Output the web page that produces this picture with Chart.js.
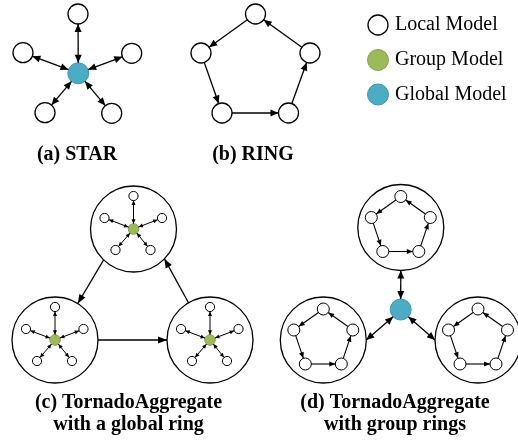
<!DOCTYPE html>
<html>
<head>
<meta charset="utf-8">
<script src="https://cdn.jsdelivr.net/npm/chart.js@4.4.0/dist/chart.umd.min.js"></script>
<style>
  html, body { margin: 0; padding: 0; background: #fff; }
  #wrap { width: 518px; height: 448px; }
</style>
</head>
<body>
<div id="wrap"><canvas id="fig" width="518" height="448"></canvas></div>
<script>
// figure units = pixels of the 518x448 picture, y grows downward

// (a) star
const starHub = [78.3, 73.3];
const starLeaves = [[78, 14], [23, 52.7], [131.7, 53.3], [45, 112.7], [111.7, 113.3]];

// (b) ring: top, left, right, bottom-left, bottom-right
const ringNodes = [[255.5, 14], [201, 53], [310, 53], [222, 113], [288.5, 113]];
const ringOrder = [0, 1, 3, 4, 2, 0];

// (c) groups with a star inside, joined by a global ring
const groupCircles = [[133.5, 229], [55, 340], [210, 340]];
const starOffsets = [[0, -33], [-29, -11], [28.5, -11], [-18, 21], [17, 21]];
// [from circle, angle on it, to circle, angle on it]
const globalRing = [[0, 134, 1, -58], [1, 0, 2, 180], [2, -120, 0, 44]];

// (d) groups with a ring inside, linked to a global hub
const ringCircles = [[400.8, 227.5], [323.3, 340], [478, 340]];
const pentOffsets = [[0, -31], [-29.5, -10], [29.5, -10], [-18, 24], [18, 24]];
const hubD = [400.7, 309.5];
// [circle, angle on circle, angle on hub]
const hubLinks = [[0, 90, -90], [1, 0, 136], [2, 180, 43]];

// legend
const legendLabels = ['Local Model', 'Group Model', 'Global Model'];
const legendPts = [[378, 25], [378, 60], [378, 94.5]];

// captions
const captionLines = [['(a) STAR'], ['(b) RING'],
  ['(c) TornadoAggregate', 'with a global ring'],
  ['(d) TornadoAggregate', 'with group rings']];
const captionPts = [[77, 155], [253, 155], [128.5, 403], [395, 403]];

const BLUE = '#4bacc6', GREEN = '#9bbb59';
const R_BIG = 43, R_NODE = 10, R_HUB = 10.5, R_C_LEAF = 4.6, R_C_GRP = 5.3, R_D_LEAF = 6;

const add = (c, o) => [c[0] + o[0], c[1] + o[1]];
const cLeaves = groupCircles.flatMap(c => starOffsets.map(o => add(c, o)));
const dLeaves = ringCircles.flatMap(c => pentOffsets.map(o => add(c, o)));
const toXY = a => a.map(p => ({ x: p[0], y: p[1] }));

function pt(chart, p) {
  return [chart.scales.x.getPixelForValue(p[0]), chart.scales.y.getPixelForValue(p[1])];
}
function onCircle(c, r, deg) {
  const a = deg * Math.PI / 180;
  return [c[0] + r * Math.cos(a), c[1] + r * Math.sin(a)];
}
function trim(a, b, ra, rb) {
  const dx = b[0] - a[0], dy = b[1] - a[1], d = Math.hypot(dx, dy);
  const ux = dx / d, uy = dy / d;
  return [[a[0] + ux * ra, a[1] + uy * ra], [b[0] - ux * rb, b[1] - uy * rb]];
}
function head(ctx, tip, from, len, wid) {
  const dx = tip[0] - from[0], dy = tip[1] - from[1], d = Math.hypot(dx, dy);
  const ux = dx / d, uy = dy / d;
  const bx = tip[0] - ux * len, by = tip[1] - uy * len;
  ctx.beginPath();
  ctx.moveTo(tip[0], tip[1]);
  ctx.lineTo(bx - uy * wid / 2, by + ux * wid / 2);
  ctx.lineTo(bx + uy * wid / 2, by - ux * wid / 2);
  ctx.closePath();
  ctx.fill();
}
function arrow(ctx, s, e, both, len, wid, lw) {
  ctx.lineWidth = lw;
  ctx.beginPath();
  ctx.moveTo(s[0], s[1]);
  ctx.lineTo(e[0], e[1]);
  ctx.stroke();
  head(ctx, e, s, len, wid);
  if (both) head(ctx, s, e, len, wid);
}

const arrowsPlugin = {
  id: 'arrows',
  afterDatasetsDraw(chart) {
    const ctx = chart.ctx;
    ctx.save();
    ctx.strokeStyle = '#000';
    ctx.fillStyle = '#000';
    // (a)
    starLeaves.forEach(l => {
      const [s, e] = trim(pt(chart, starHub), pt(chart, l), R_HUB, R_NODE);
      arrow(ctx, s, e, true, 8, 7, 1.3);
    });
    // (b)
    for (let i = 0; i < ringOrder.length - 1; i++) {
      const [s, e] = trim(pt(chart, ringNodes[ringOrder[i]]), pt(chart, ringNodes[ringOrder[i + 1]]), R_NODE, R_NODE);
      arrow(ctx, s, e, false, 8, 7, 1.3);
    }
    // (c) inner stars
    groupCircles.forEach(c => {
      starOffsets.forEach(o => {
        const [s, e] = trim(pt(chart, c), pt(chart, add(c, o)), R_C_GRP, R_C_LEAF);
        arrow(ctx, s, e, true, 4.5, 4, 1);
      });
    });
    // (c) global ring
    globalRing.forEach(([a, da, b, db]) => {
      const s = pt(chart, onCircle(groupCircles[a], R_BIG, da));
      const e = pt(chart, onCircle(groupCircles[b], R_BIG, db));
      arrow(ctx, s, e, false, 9, 7, 1.3);
    });
    // (d) inner rings
    ringCircles.forEach(c => {
      for (let i = 0; i < ringOrder.length - 1; i++) {
        const a = add(c, pentOffsets[ringOrder[i]]), b = add(c, pentOffsets[ringOrder[i + 1]]);
        const [s, e] = trim(pt(chart, a), pt(chart, b), R_D_LEAF, R_D_LEAF);
        arrow(ctx, s, e, false, 6, 5, 1.1);
      }
    });
    // (d) hub links
    hubLinks.forEach(([k, dc, dh]) => {
      const s = pt(chart, onCircle(hubD, R_HUB, dh));
      const e = pt(chart, onCircle(ringCircles[k], R_BIG, dc));
      arrow(ctx, s, e, true, 8, 7, 1.3);
    });
    ctx.restore();
  }
};

const textPlugin = {
  id: 'texts',
  afterDraw(chart) {
    const ctx = chart.ctx;
    ctx.save();
    ctx.fillStyle = '#000';
    ctx.textBaseline = 'middle';
    ctx.font = '20px "Liberation Serif", "Times New Roman", serif';
    ctx.textAlign = 'left';
    legendLabels.forEach((t, i) => {
      const p = pt(chart, [legendPts[i][0] + 17, legendPts[i][1]]);
      ctx.fillText(t, p[0], p[1]);
    });
    ctx.font = 'bold 20px "Liberation Serif", "Times New Roman", serif';
    ctx.textAlign = 'center';
    captionLines.forEach((lines, i) => {
      lines.forEach((t, j) => {
        const p = pt(chart, [captionPts[i][0], captionPts[i][1] + j * 22]);
        ctx.fillText(t, p[0], p[1]);
      });
    });
    ctx.restore();
  }
};

const whiteNode = { backgroundColor: '#fff', borderColor: '#000', showLine: false, clip: false };

new Chart(document.getElementById('fig'), {
  type: 'scatter',
  data: {
    datasets: [
      { label: 'Global Model', data: toXY([starHub, hubD, legendPts[2]]), pointRadius: R_HUB,
        backgroundColor: BLUE, borderColor: '#3d94ab', borderWidth: 1, clip: false },
      { label: 'Group Model', data: toXY([legendPts[1]]), pointRadius: R_HUB,
        backgroundColor: GREEN, borderColor: '#86a44a', borderWidth: 1, clip: false },
      { label: 'Group Model (c)', data: toXY(groupCircles), pointRadius: R_C_GRP,
        backgroundColor: GREEN, borderColor: '#86a44a', borderWidth: 1, clip: false },
      { label: 'Local Model', data: toXY([...starLeaves, ...ringNodes, legendPts[0]]), pointRadius: R_NODE,
        borderWidth: 1.3, ...whiteNode },
      { label: 'Local (c)', data: toXY(cLeaves), pointRadius: R_C_LEAF, borderWidth: 1, ...whiteNode },
      { label: 'Local (d)', data: toXY(dLeaves), pointRadius: R_D_LEAF, borderWidth: 1, ...whiteNode },
      { label: 'Groups', data: toXY([...groupCircles, ...ringCircles]), pointRadius: R_BIG,
        backgroundColor: 'rgba(0,0,0,0)', borderColor: '#000', borderWidth: 1.3, clip: false }
    ]
  },
  options: {
    responsive: false,
    animation: false,
    events: [],
    layout: { padding: 0, autoPadding: false },
    plugins: { legend: { display: false }, tooltip: { enabled: false } },
    scales: {
      x: { type: 'linear', min: 0, max: 518, display: false },
      y: { type: 'linear', min: 0, max: 448, reverse: true, display: false }
    },
    elements: { point: { hoverRadius: 0 } }
  },
  plugins: [arrowsPlugin, textPlugin]
});
</script>
</body>
</html>
